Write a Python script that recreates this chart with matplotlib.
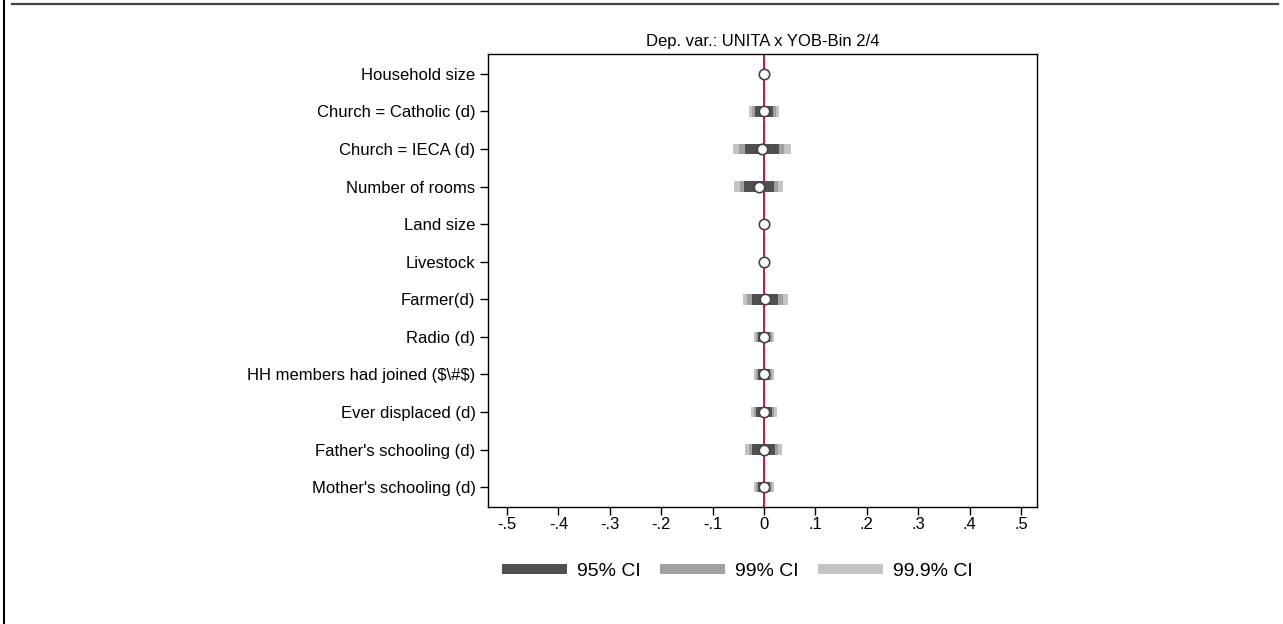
import matplotlib
matplotlib.use("Agg")
import matplotlib.pyplot as plt
from matplotlib.lines import Line2D
import numpy as np

plt.rcParams['font.family'] = ['Liberation Sans', 'DejaVu Sans']

labels = ["Household size", "Church = Catholic (d)", "Church = IECA (d)",
          "Number of rooms", "Land size", "Livestock", "Farmer(d)", "Radio (d)",
          r"HH members had joined (\$\#\$)", "Ever displaced (d)",
          "Father's schooling (d)", "Mother's schooling (d)"]
coef = [0.0, 0.0, -0.004, -0.010, 0.0, 0.0, 0.002, 0.0, 0.0, 0.0, -0.001, 0.0]
se = [0.0008, 0.009, 0.017, 0.0145, 0.0005, 0.0005, 0.0133, 0.0058, 0.0058,
      0.0075, 0.011, 0.006]
ci_levels = ["99.9% CI", "99% CI", "95% CI"]
ci_z = [3.291, 2.576, 1.960]
ci_colors = ["#c4c4c4", "#a0a0a0", "#505050"]
xticks = [-0.5, -0.4, -0.3, -0.2, -0.1, 0, 0.1, 0.2, 0.3, 0.4, 0.5]
xticklabels = ["-.5", "-.4", "-.3", "-.2", "-.1", "0", ".1", ".2", ".3", ".4", ".5"]
title = "Dep. var.: UNITA x YOB-Bin 2/4"

W, H = 1283, 624
fig = plt.figure(figsize=(W / 100, H / 100), dpi=100)
ax = fig.add_axes([488 / W, 1 - 507 / H, (1037 - 488) / W, (507 - 54) / H])

y = np.arange(1, len(labels) + 1)
c = np.array(coef)
s = np.array(se)

ax.axvline(0, color="#c8143c", lw=1.4, zorder=1)
for z, col in zip(ci_z, ci_colors):
    ax.barh(y, 2 * z * s, left=c - z * s, height=0.28, color=col, lw=0, zorder=2)
ax.plot(c, y, linestyle="none", marker="o", markersize=7.5,
        markerfacecolor="white", markeredgecolor="#444444", markeredgewidth=1.2,
        zorder=4)

ax.set_xlim(-0.537, 0.531)
ax.set_ylim(12.53, 0.47)
ax.set_xticks(xticks)
ax.set_xticklabels(xticklabels, fontsize=12)
ax.set_yticks(y)
ax.set_yticklabels(labels, fontsize=12)
ax.tick_params(axis="x", length=6, width=1, pad=1.5)
ax.tick_params(axis="y", length=6, width=1, pad=3)
for sp in ax.spines.values():
    sp.set_linewidth(1.0)
ax.set_title(title, fontsize=12, pad=6)

handles = [Line2D([0], [0], color=col, lw=7.2, solid_capstyle="butt")
           for col in ci_colors[::-1]]
fig.legend(handles, ci_levels[::-1], loc="center",
           bbox_to_anchor=(737 / W, 1 - 571 / H), ncol=3, frameon=False,
           fontsize=14, handlelength=3.35, handletextpad=0.5, columnspacing=1.0)

# outer frame fragments
fig.add_artist(Line2D([12 / W, 1278 / W], [1 - 3.5 / H, 1 - 3.5 / H],
                      transform=fig.transFigure, color="#444444", lw=1.6))
fig.add_artist(Line2D([3.5 / W, 3.5 / W], [0, 1],
                      transform=fig.transFigure, color="black", lw=1.5))

fig.savefig("out.png", dpi=100, facecolor="white")
